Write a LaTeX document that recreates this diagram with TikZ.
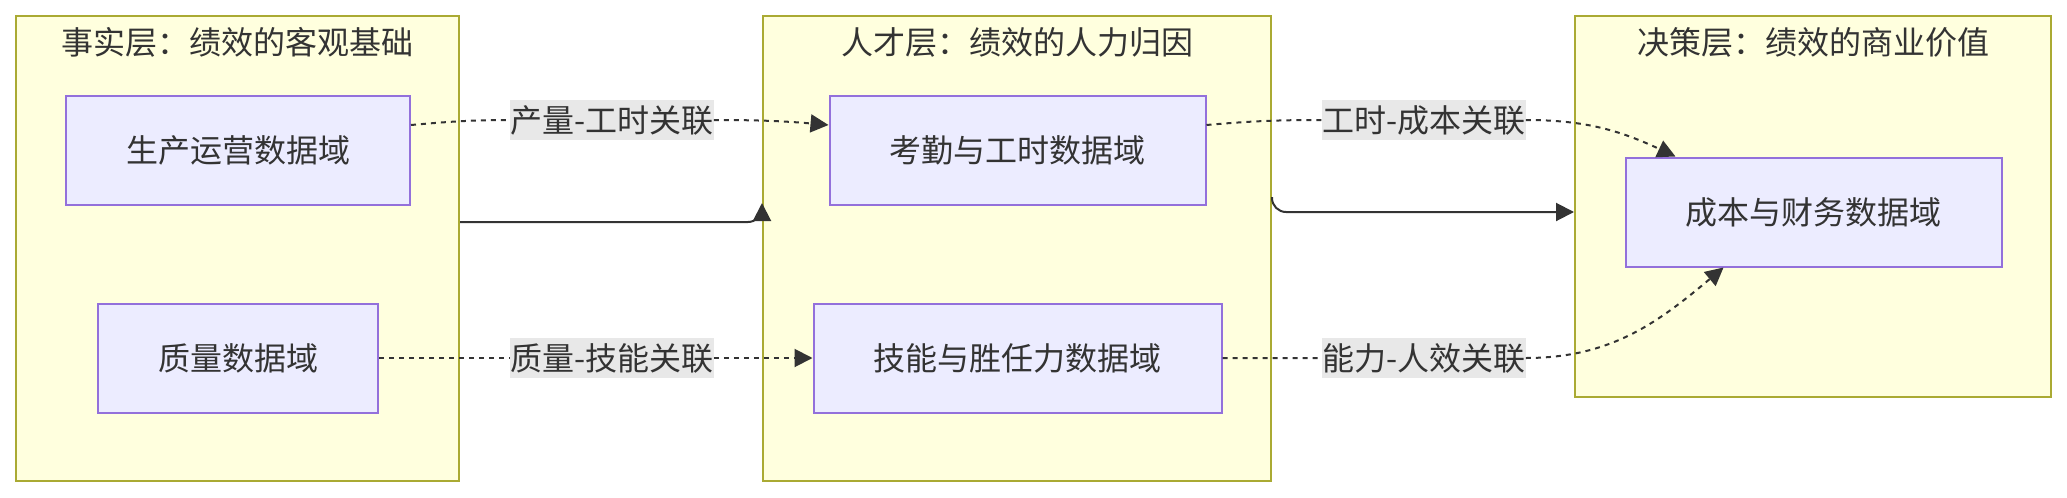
\documentclass[tikz,border=0pt]{standalone}
\usepackage{fontspec}
\setmainfont{Noto Sans CJK SC}
\usetikzlibrary{arrows.meta}

\definecolor{layerfill}{HTML}{FFFFDE}
\definecolor{layerline}{HTML}{AAAA33}
\definecolor{domfill}{HTML}{ECECFF}
\definecolor{domline}{HTML}{9370DB}
\definecolor{tagfill}{HTML}{E8E8E8}
\definecolor{ink}{HTML}{333333}

\begin{document}
\begin{tikzpicture}[
  x=0.5pt, y=-0.5pt,
  font=\fontsize{16pt}{19pt}\selectfont,
  text=ink,
  >={Triangle[length=9pt,width=9pt]},
  layerbox/.style={draw=layerline,fill=layerfill,line width=1pt,inner sep=0pt},
  titlebox/.style={inner sep=0pt},
  dombox/.style={draw=domline,fill=domfill,line width=1pt,inner xsep=30pt,inner ysep=0pt,minimum height=54.5pt},
  tagbox/.style={fill=tagfill,inner sep=0pt,minimum height=20pt},
  link/.style={->,draw=ink,line width=1pt,dash pattern=on 2.5pt off 2.5pt},
  flow/.style={->,draw=ink,line width=1pt,rounded corners=7pt}
]
\useasboundingbox (0,0) rectangle (2067,498);

% three layers
\node[layerbox,minimum width=221.5pt,minimum height=232.5pt] (fact) at (237.5,248.5) {};
\node[titlebox] (factT) at (237.5,42) {事实层：绩效的客观基础};
\node[layerbox,minimum width=254pt,minimum height=232.5pt] (talent) at (1017,248.5) {};
\node[titlebox] (talentT) at (1017,42) {人才层：绩效的人力归因};
\node[layerbox,minimum width=238pt,minimum height=190.5pt] (decide) at (1813,206.5) {};
\node[titlebox] (decideT) at (1813,42) {决策层：绩效的商业价值};

% data domains
\node[dombox] (prod) at (238,150) {生产运营数据域};
\node[dombox] (qual) at (238,358) {质量数据域};
\node[dombox] (att) at (1017.5,150) {考勤与工时数据域};
\node[dombox] (skill) at (1017.5,358) {技能与胜任力数据域};
\node[dombox] (cost) at (1813.5,212) {成本与财务数据域};

% links between domains
\node[tagbox] (tagA) at (612,120) {产量-工时关联};
\node[tagbox] (tagB) at (612,358) {质量-技能关联};
\node[tagbox] (tagC) at (1424,120) {工时-成本关联};
\node[tagbox] (tagD) at (1424,358) {能力-人效关联};

\draw[link] ([yshift=12.5pt]prod.east) to[out=5,in=180] (tagA.west)
  (tagA.east) to[out=0,in=175] ([yshift=12.5pt]att.west);
\draw[link] (qual.east) -- (tagB.west) (tagB.east) -- (skill.west);
\draw[link] ([yshift=12.5pt]att.east) to[out=5,in=180] (tagC.west)
  (tagC.east) to[out=0,in=155] ([xshift=-69pt]cost.north);
\draw[link] (skill.east) -- (tagD.west)
  (tagD.east) to[out=0,in=220] ([xshift=-45pt]cost.south);

% layer to layer
\draw[flow] ([yshift=13.25pt]fact.east) -| ([yshift=22.75pt]talent.west);
\draw[flow] ([yshift=25.75pt]talent.east) |- ([yshift=-2.75pt]decide.west);
\end{tikzpicture}
\end{document}
